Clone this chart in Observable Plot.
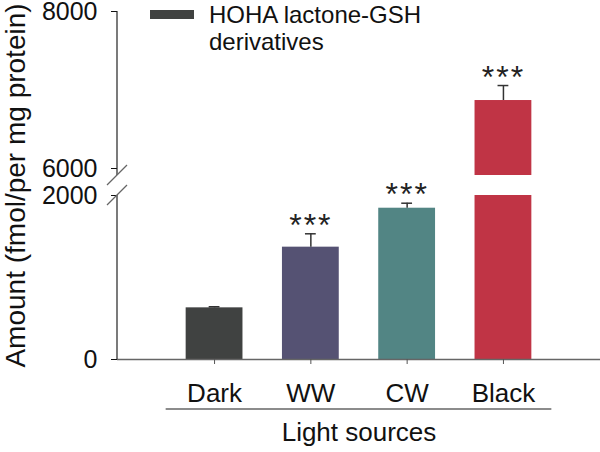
<!DOCTYPE html>
<html><head><meta charset="utf-8">
<script src="https://cdn.jsdelivr.net/npm/d3@7"></script>
<script src="https://cdn.jsdelivr.net/npm/@observablehq/plot@0.6"></script>
<style>
body{margin:0;background:#fff;}
.stars text{letter-spacing:2px;}
</style>
</head><body><div id="chart"></div>
<script>
// ---- data ----
const categories = ["Dark", "WW", "CW", "Black"];
const means = [630, 1370, 1845, 6866];
const errors = [13, 163, 61, 191];
const significance = ["", "***", "***", "***"];
const colors = ["#404241", "#555273", "#528584", "#c03445"];
const yTicks = [0, 2000, 6000, 8000];
const yBreak = [2000, 5911]; // lower segment top, upper segment bottom
const yMax = 8000;
const legendLines = ["HOHA lactone-GSH", "derivatives"];
const xTitle = "Light sources";
const yTitle = "Amount (fmol/per mg protein)";

const rows = categories.map((c, i) => ({cat: c, mean: means[i], err: errors[i], sig: significance[i], color: colors[i]}));
const lowerPieces = rows.map(d => ({...d, y1: 0, y2: Math.min(d.mean, yBreak[0])}));
const upperPieces = rows.filter(d => d.mean > yBreak[1]).map(d => ({...d, y1: yBreak[1], y2: d.mean}));

const FONT = "'Liberation Sans', Arial, sans-serif";

function decorations(index, scales, values, dims) {
  const {x, y} = scales;
  const g = d3.create("svg:g");
  const x0 = dims.marginLeft;
  // broken y axis line
  g.append("line").attr("x1", x0).attr("x2", x0).attr("y1", y(yMax)).attr("y2", y(yBreak[1]))
    .attr("stroke", "#222").attr("stroke-width", 1.2);
  g.append("line").attr("x1", x0).attr("x2", x0).attr("y1", y(yBreak[0])).attr("y2", y(0))
    .attr("stroke", "#222").attr("stroke-width", 1.2);
  for (const v of yBreak) {
    const yy = y(v);
    g.append("line").attr("x1", x0 - 10).attr("y1", yy + 10).attr("x2", x0 + 10).attr("y2", yy - 10)
      .attr("stroke", "#666").attr("stroke-width", 1.3);
  }
  // underline under category labels
  let bw = typeof x.bandwidth === "function" ? x.bandwidth() : x.bandwidth;
  if (!bw) bw = 57;
  const xa = x(categories[0]) - 20, xb = x(categories[categories.length - 1]) + bw + 20;
  const yu = dims.height - dims.marginBottom + 50;
  g.append("line").attr("x1", xa).attr("x2", xb).attr("y1", yu).attr("y2", yu)
    .attr("stroke", "#666").attr("stroke-width", 1.5);
  // legend
  const lx = x0 + 33;
  g.append("rect").attr("x", lx).attr("y", 10).attr("width", 44).attr("height", 9).attr("fill", colors[0]);
  legendLines.forEach((t, i) => {
    g.append("text").attr("x", lx + 59).attr("y", 23 + i * 27).attr("font-size", 24)
      .attr("text-anchor", "start")
      .attr("font-family", FONT).attr("fill", "#111").text(t);
  });
  return g.node();
}

const chart = Plot.plot({
  width: 600, height: 452,
  marginLeft: 117, marginRight: 0, marginTop: 11, marginBottom: 93,
  style: {fontFamily: FONT, fontSize: "25px", color: "#111", background: "#fff"},
  x: {type: "band", domain: categories, paddingInner: 0.41, paddingOuter: 0.713, round: false, label: null},
  y: {type: "linear", domain: [0, yBreak[0], yBreak[1], yMax], range: [359, 195, 175, 11], label: null},
  color: {type: "identity"},
  marks: [
    Plot.barY(lowerPieces, {x: "cat", y1: "y1", y2: "y2", fill: "color"}),
    Plot.barY(upperPieces, {x: "cat", y1: "y1", y2: "y2", fill: "color"}),
    Plot.ruleX(rows, {x: "cat", y1: "mean", y2: d => d.mean + d.err, stroke: "#333", strokeWidth: 1.5}),
    Plot.tickY(rows, {x: "cat", y: d => d.mean + d.err, stroke: "#333", strokeWidth: 1.5, insetLeft: 23, insetRight: 23}),
    Plot.text(rows.filter(d => d.sig), {x: "cat", y: d => d.mean + d.err, text: "sig", dy: -8, fontSize: 32, fill: "#222", className: "stars"}),
    Plot.ruleY([0], {stroke: "#666", strokeWidth: 1.5}),
    Plot.axisX({tickSize: 5, tickPadding: 19, fontSize: 26, stroke: "#555", label: null}),
    Plot.axisY({ticks: yTicks, tickSize: 6, tickPadding: 14, tickFormat: d => String(d), fontSize: 25, label: null}),
    Plot.text([yTitle], {frameAnchor: "left", textAnchor: "middle", rotate: -90, dx: -101, fontSize: 28, fill: "#111"}),
    Plot.text([xTitle], {frameAnchor: "bottom", dy: 81, fontSize: 26, fill: "#111"}),
    decorations
  ]
});
document.getElementById("chart").appendChild(chart);
</script>
</body></html>
